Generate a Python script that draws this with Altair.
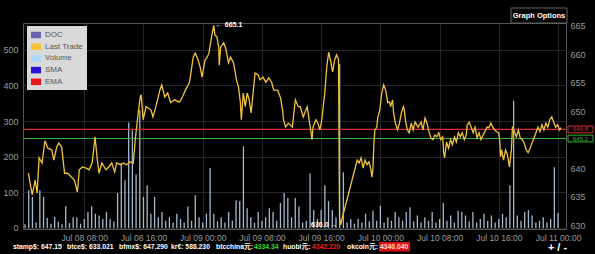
import altair as alt
import pandas as pd

FONT = "Liberation Sans, Arial, DejaVu Sans, Noto Sans CJK SC, sans-serif"

# ---------------- data ----------------
price_hours = [0.44, 0.97, 1.37, 1.63, 1.90, 2.29, 2.69, 3.08, 3.62, 3.89, 4.28, 4.55, 4.95, 5.34, 5.74,
               6.27, 6.67, 7.07, 7.33, 7.73, 8.26, 8.66, 9.06, 9.46, 9.72, 9.99, 10.38, 10.92, 11.31,
               11.71, 12.11, 12.37, 12.90, 13.30, 13.70, 14.23, 14.63, 14.89, 15.03, 15.29, 15.56, 15.69,
               15.95, 16.35, 17.02, 17.28, 17.68, 18.21, 18.47, 18.87, 19.27, 19.67, 20.20, 20.86, 21.26,
               21.66, 22.19, 22.32, 22.72, 22.99, 23.38, 23.65, 23.91, 24.31, 24.58, 24.84, 24.97, 25.24,
               25.50, 25.64, 25.90, 26.17, 26.23, 26.43, 26.83, 27.10, 27.49, 27.76, 28.16, 28.29, 28.56,
               28.83, 29.09, 29.22, 29.48, 29.75, 30.01, 30.28, 30.54, 30.81, 31.07, 31.47, 31.74, 32.14,
               32.53, 32.93, 33.33, 33.60, 34.12, 34.26, 34.52, 34.79, 34.92, 35.19, 35.58, 36.11, 36.51,
               36.91, 37.18, 37.58, 38.11, 38.24, 38.64, 38.77, 38.90, 39.30, 39.56, 39.83, 40.09, 40.23,
               40.49, 40.76, 41.02, 41.29, 41.55, 41.82, 42.08, 42.35, 42.48, 42.61, 44.87, 45.13, 45.40,
               45.67, 45.93, 46.20, 46.46, 46.73, 46.86, 46.99, 47.13, 47.26, 47.52, 47.66, 47.92, 48.19,
               48.45, 48.72, 48.99, 49.25, 49.38, 49.65, 49.78, 50.04, 50.31, 50.57, 50.84, 51.11, 51.24,
               51.37, 51.64, 51.90, 52.17, 52.43, 52.70, 53.10, 53.50, 53.76, 54.03, 54.30, 54.56, 54.83,
               55.09, 55.36, 55.62, 55.89, 56.15, 56.42, 56.55, 56.68, 56.94, 57.21, 57.48, 57.74, 58.01,
               58.27, 58.54, 58.80, 59.07, 59.34, 59.60, 59.73, 60.00, 60.26, 60.53, 60.79, 61.06, 61.33,
               61.59, 61.86, 62.12, 62.39, 62.65, 62.92, 63.18, 63.45, 63.71, 63.98, 64.11, 64.24, 64.38,
               64.64, 64.91, 65.17, 65.44, 65.70, 65.84, 66.11, 66.37, 66.64, 66.90, 67.17, 67.43, 67.70,
               67.96, 68.23, 68.49, 68.76, 69.02, 69.29, 69.56, 69.82, 70.09, 70.35, 70.62, 70.88, 71.15,
               71.41, 71.68, 71.94, 72.21, 72.40]
price_values = [639.1, 635.3, 637.9, 635.6, 641.8, 640.9, 644.8, 643.5, 643.2, 641.4, 643.7, 644.4, 643.7, 639.1, 639.1,
                638.4, 637.9, 635.8, 639.7, 640.2, 640.0, 639.7, 640.9, 645.5, 642.0, 639.1, 640.9, 639.7, 640.2,
                640.9, 639.3, 640.9, 640.6, 640.9, 640.6, 641.1, 640.9, 645.0, 646.7, 649.7, 652.5, 652.9,
                648.5, 650.8, 650.2, 649.0, 650.8, 653.7, 654.6, 652.5, 653.2, 651.5, 652.0, 651.6, 652.5,
                653.7, 655.0, 656.0, 659.5, 660.2, 659.0, 657.8, 656.0, 659.0, 659.4, 660.2, 661.3, 663.4,
                665.1, 663.4, 663.1, 661.3, 658.1, 661.3, 662.0, 661.1, 658.5, 659.5, 658.5, 657.6, 655.5,
                654.3, 651.5, 648.5, 653.2, 650.8, 653.2, 652.0, 649.7, 653.2, 656.7, 656.4, 655.5, 656.0,
                655.1, 655.9, 655.0, 653.7, 653.7, 653.2, 652.3, 650.2, 648.5, 647.2, 647.9, 647.2, 652.0,
                650.8, 650.8, 649.0, 650.8, 649.7, 646.2, 645.0, 647.2, 648.5, 647.9, 646.7, 648.5, 650.2,
                653.2, 657.8, 660.4, 658.7, 656.9, 659.0, 659.9, 659.0, 631.4, 630.0, 641.4, 640.9, 641.8,
                640.0, 641.4, 640.6, 641.1, 639.7, 638.4, 639.7, 644.4, 646.7, 647.2, 649.0, 650.2, 653.2,
                654.6, 653.7, 651.5, 651.6, 650.8, 652.0, 649.7, 647.9, 646.7, 647.9, 649.7, 650.8, 650.2,
                648.5, 646.7, 646.2, 647.9, 646.7, 648.1, 647.2, 648.1, 646.7, 648.8, 647.9, 646.4, 645.3,
                645.0, 645.8, 645.5, 646.2, 645.0, 645.5, 642.7, 641.8, 644.6, 643.5, 645.0, 644.1, 645.5,
                644.6, 646.2, 645.5, 646.2, 645.0, 645.8, 647.6, 648.1, 647.2, 646.2, 647.2, 645.3, 646.2,
                645.0, 645.8, 646.4, 647.2, 647.1, 647.9, 647.2, 646.7, 646.4, 646.2, 645.0, 642.0, 643.2,
                641.4, 643.2, 642.3, 640.2, 643.2, 647.1, 646.4, 645.5, 646.7, 645.3, 645.0, 644.4, 643.2,
                642.7, 643.5, 644.4, 645.3, 646.2, 647.2, 646.4, 647.6, 646.7, 647.9, 647.2, 648.5, 649.0,
                648.1, 647.2, 647.6, 646.7, 647.1]

# volume per half hour (hours 0.0 .. 72.0)
volume_values = [10, 106, 87, 15, 106, 87, 28, 12, 31, 17, 10, 61, 14, 30, 30, 12, 25, 45, 61, 40,
                 35, 25, 45, 25, 18, 98, 182, 134, 296, 274, 150, 330, 87, 120, 40, 87, 30, 45, 20, 30,
                 15, 40, 25, 15, 60, 20, 92, 30, 15, 40, 168, 40, 18, 30, 15, 45, 20, 78, 75, 229,
                 55, 30, 15, 45, 20, 30, 55, 45, 20, 70, 98, 84, 30, 84, 60, 15, 20, 153, 50, 25,
                 50, 120, 75, 50, 30, 460, 156, 15, 25, 12, 25, 15, 40, 18, 48, 20, 62, 15, 30, 20,
                 45, 30, 20, 45, 58, 18, 35, 15, 30, 20, 45, 15, 25, 70, 20, 35, 15, 48, 45, 35,
                 18, 45, 15, 25, 40, 20, 35, 15, 25, 40, 30, 120, 357, 35, 20, 45, 50, 35, 15, 20,
                 30, 15, 25, 170, 42]
volume_hours = [i * 0.5 for i in range(len(volume_values))]

x_tick_hours = [8, 16, 24, 32, 40, 48, 56, 64, 72]
x_tick_labels = ["Jul 08 08:00", "Jul 08 16:00", "Jul 09 00:00", "Jul 09 08:00", "Jul 09 16:00",
                 "Jul 10 00:00", "Jul 10 08:00", "Jul 10 16:00", "Jul 11 00:00"]
vol_ticks = [0, 100, 200, 300, 400, 500]
# the 645 label is hidden behind the 645.2 price box in the original
price_ticks = [630, 635, 640, 650, 655, 660, 665]

level_values = [646.8, 645.2]
level_texts = ["646.8", "645.2"]
level_colors = ["#d83030", "#2fb52f"]

legend_labels = ["DOC", "Last Trade", "Volume", "SMA", "EMA"]
legend_colors = ["#6a62a8", "#f2c33b", "#a9d9f2", "#2a12d6", "#e8141c"]

ann_hours = [25.50, 42.61]
ann_prices = [665.1, 630.0]
ann_texts = ["\u2190 665.1", "630.0 \u2192"]

ticker_texts = ["stamp$: 647.15", "btce$: 633.021", "bfmx$: 647.290", "kr\u20ac: 588.230",
                "btcchina\u5143:", "4334.34", "huobi\u5143:", "4342.220", "okcoin\u5143:", "4340.040"]
ticker_colors = ["#ffffff", "#ffffff", "#ffffff", "#ffffff", "#ffffff", "#33dd33", "#ffffff",
                 "#ee2222", "#ffffff", "#ffdddd"]
ticker_x = [13, 67, 119, 171, 216, 254, 283, 312, 347, 380]

# ---------------- frames ----------------
df_price = pd.DataFrame({"hour": price_hours, "price": price_values})
df_vol = pd.DataFrame({"hour": volume_hours, "vol": volume_values})
df_lvl = pd.DataFrame({"price": level_values, "t": level_texts, "c": level_colors})
df_ann = pd.DataFrame({"hour": ann_hours, "price": ann_prices, "t": ann_texts})
df_leg = pd.DataFrame({"label": legend_labels})

PL, PT = 23, 23  # padding left/top

label_expr = "[" + ",".join("'%s'" % s for s in x_tick_labels) + "][round(datum.value/8)-1]"
x_enc = alt.X("hour:Q",
              scale=alt.Scale(domain=[0.4, 72.4], nice=False, zero=False),
              axis=alt.Axis(values=x_tick_hours, labelExpr=label_expr, grid=True, gridColor="#262626",
                            domain=False, ticks=False, labelColor="#999999", labelFontSize=8.5,
                            labelFont=FONT, labelPadding=4, title=None, labelFlush=False,
                            labelOverlap=False))
y_price = alt.Y("price:Q",
                scale=alt.Scale(domain=[629.3, 665.5], nice=False, zero=False),
                axis=alt.Axis(orient="right", values=price_ticks, grid=False, domain=False, ticks=False,
                              labelColor="#999999", labelFontSize=9, labelFont=FONT, labelPadding=4,
                              title=None))

vol = alt.Chart(df_vol).mark_bar(width=1.3, color="#b4cde4", opacity=0.9).encode(
    x=x_enc,
    y=alt.Y("vol:Q", scale=alt.Scale(domain=[-3, 575], nice=False, zero=False),
            axis=alt.Axis(orient="left", values=vol_ticks, grid=True, gridColor="#262626",
                          domain=False, ticks=False, labelColor="#999999", labelFontSize=9,
                          labelFont=FONT, labelPadding=5, title=None)),
)

rules = alt.Chart(df_lvl).mark_rule(strokeWidth=1.2).encode(
    y=y_price, color=alt.Color("c:N", scale=None))
line = alt.Chart(df_price).mark_line(color="#f2c33b", strokeWidth=1.3, clip=True).encode(
    x=x_enc, y=y_price)
box_path = "M-1,-0.27L1,-0.27L1,0.27L-1,0.27Z"
boxes = alt.Chart(df_lvl).mark_point(shape=box_path, size=625, fill="#000000", fillOpacity=1,
                                     strokeWidth=1, opacity=1).encode(
    y=y_price, x=alt.value(557.5), stroke=alt.Stroke("c:N", scale=None))
box_txt_hi = alt.Chart(df_lvl.iloc[[0]]).mark_text(fontSize=6, font=FONT, align="center",
                                                   baseline="middle", dy=-0.5).encode(
    y=y_price, x=alt.value(557.5), text="t:N", color=alt.Color("c:N", scale=None))
box_txt_lo = alt.Chart(df_lvl.iloc[[1]]).mark_text(fontSize=6, font=FONT, align="center",
                                                   baseline="middle", dy=0.8).encode(
    y=y_price, x=alt.value(557.5), text="t:N", color=alt.Color("c:N", scale=None))
ann_hi = alt.Chart(df_ann.iloc[[0]]).mark_text(align="left", dx=2, baseline="middle", fontSize=7,
                                               fontWeight="bold", color="#ffffff", font=FONT).encode(
    x=x_enc, y=y_price, text="t:N")
ann_lo = alt.Chart(df_ann.iloc[[1]]).mark_text(align="right", dx=-3, baseline="middle", fontSize=7,
                                               fontWeight="bold", color="#ffffff", font=FONT).encode(
    x=x_enc, y=y_price, text="t:N")

price_layer = alt.layer(rules, line, boxes, box_txt_hi, box_txt_lo, ann_hi, ann_lo)

legend_layer = alt.Chart(df_leg).mark_point(shape="square", filled=True, opacity=0).encode(
    x=alt.value(-200), y=alt.value(-200),
    color=alt.Color("label:N", scale=alt.Scale(domain=legend_labels, range=legend_colors),
                    legend=alt.Legend(orient="none", legendX=4, legendY=3, title=None,
                                      fillColor="#d9d9d9", padding=4, rowPadding=2.7,
                                      labelFontSize=8, labelColor="#555555", labelFont=FONT,
                                      symbolType="M-1,-0.65L1,-0.65L1,0.65L-1,0.65Z", symbolSize=100,
                                      symbolStrokeWidth=0, symbolOpacity=1, labelOffset=4)))


def txt(text, x, y, color, size, weight="normal", align="left"):
    return alt.Chart(pd.DataFrame({"t": [text]})).mark_text(
        align=align, baseline="middle", color=color, fontSize=size, fontWeight=weight, font=FONT
    ).encode(text="t:N", x=alt.value(x - PL), y=alt.value(y - PT))


def box(x1, x2, y1, y2, fill, stroke=None):
    kw = dict(fill=fill)
    if stroke:
        kw.update(stroke=stroke, strokeWidth=1)
    return alt.Chart(pd.DataFrame({"k": [0]})).mark_rect(**kw).encode(
        x=alt.value(x1 - PL), x2=alt.value(x2 - PL), y=alt.value(y1 - PT), y2=alt.value(y2 - PT))


chrome = [box(511, 567, 8, 23, "#000000", "#666666"),
          txt("Graph Options", 539, 15.5, "#ffffff", 7.5, "bold", "center"),
          box(379, 410, 242, 251.5, "#dd1111")]
for t, c, x in zip(ticker_texts, ticker_colors, ticker_x):
    chrome.append(txt(t, x, 247, c, 6.8, "bold"))
chrome.append(txt("+ / -", 557.5, 248, "#ffffff", 11, "bold", "center"))

chart = alt.layer(vol, price_layer, legend_layer, *chrome).resolve_scale(
    y="independent"
).properties(
    width=543, height=206,
    autosize=alt.AutoSizeParams(type="none"),
    padding={"left": 23, "top": 23, "right": 29, "bottom": 25},
    background="#000000",
).configure_view(stroke="#555555", strokeWidth=1)

chart.save("out.html", embed_options={"renderer": "svg", "actions": False})
